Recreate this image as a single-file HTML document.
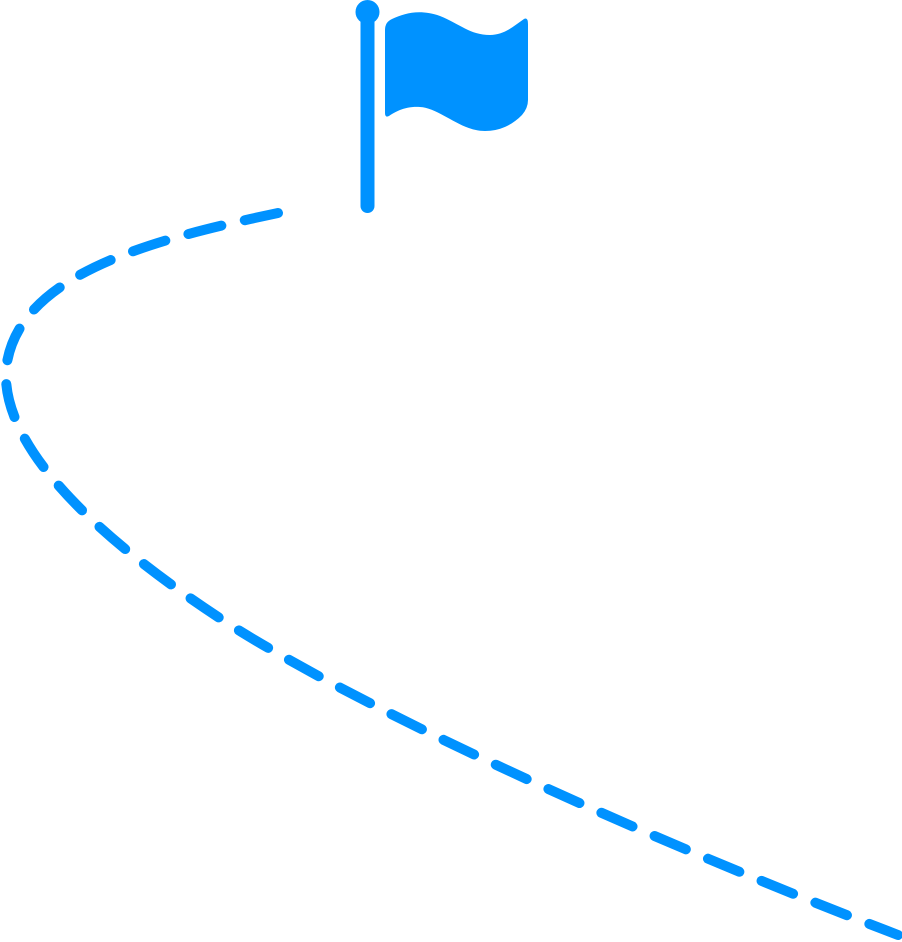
<!DOCTYPE html>
<html><head><style>html,body{margin:0;padding:0;background:#fff;}svg{display:block}</style></head>
<body>
<svg width="902" height="942" viewBox="0 0 902 942" xmlns="http://www.w3.org/2000/svg">
<path d="M278,213 C150,240 15,275 6,370 C2,445 90,535 235,628 C380,718 650,840 898,935" fill="none" stroke="#0092FF" stroke-width="10" stroke-linecap="round" stroke-dasharray="34,24"/>
<line x1="367.5" y1="18" x2="367.5" y2="206" stroke="#0092FF" stroke-width="14" stroke-linecap="round"/>
<circle cx="367.5" cy="12" r="12" fill="#0092FF"/>
<path d="M385,30 Q385,22 392,19 C405,13 420,9 440,16 C460,24 470,35 490,35 C505,35 515,25 524,19 Q528,17 528,24 L528,100 Q528,108 522,115 C512,125 500,131 485,131 C460,131 440,108 420,107 C405,106 395,112 389,116 Q385,118 385,113 Z" fill="#0092FF"/>
</svg>
</body></html>
